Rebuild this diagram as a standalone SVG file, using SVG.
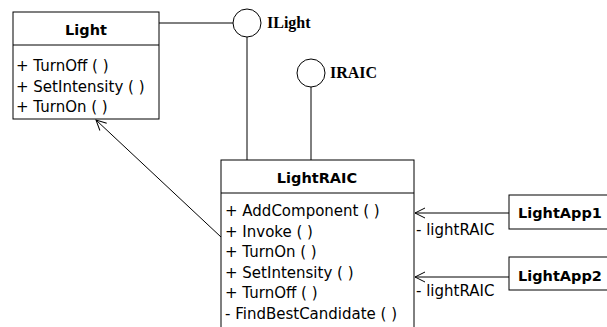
<svg xmlns="http://www.w3.org/2000/svg" width="607" height="327" viewBox="0 0 607 327">
<style>
.box{fill:#fff;stroke:#000;stroke-width:1}
.ln{fill:none;stroke:#000;stroke-width:1}
.t{font-family:"DejaVu Sans",Verdana,sans-serif;font-size:15px;fill:#000}
.b{font-family:"DejaVu Sans",Verdana,sans-serif;font-size:14.5px;font-weight:bold;fill:#000}
.s{font-family:"Liberation Serif","Times New Roman",serif;font-size:16px;font-weight:bold;fill:#000}
</style>
<defs>
<marker id="open" viewBox="-1 -1 14 14" refX="0" refY="6" markerWidth="14" markerHeight="14" markerUnits="userSpaceOnUse" orient="auto">
<path d="M10,1 L0,6 L10,11" fill="none" stroke="#000" stroke-width="1"/>
</marker>
</defs>
<rect width="607" height="327" fill="#fff"/>
<g id="connectors">
<line class="ln" x1="159" y1="23" x2="233" y2="23"/>
<line class="ln" x1="247" y1="37" x2="247" y2="160"/>
<line class="ln" x1="311" y1="87" x2="311" y2="160"/>
<line class="ln" x1="96" y1="120" x2="221" y2="237" marker-start="url(#open)"/>
<line class="ln" x1="415" y1="213" x2="509" y2="213" marker-start="url(#open)"/>
<line class="ln" x1="415" y1="277" x2="509" y2="277" marker-start="url(#open)"/>
<text class="t" x="416" y="235">- lightRAIC</text>
<text class="t" x="416" y="296">- lightRAIC</text>
</g>
<g id="Light">
<rect class="box" x="13" y="12" width="146" height="107"/>
<line class="ln" x1="13" y1="45" x2="159" y2="45"/>
<text class="b" x="86" y="35" text-anchor="middle">Light</text>
<text class="t" x="16" y="71">+ TurnOff ( )</text>
<text class="t" x="16" y="92">+ SetIntensity ( )</text>
<text class="t" x="16" y="112">+ TurnOn ( )</text>
</g>
<g id="ILight">
<circle class="box" cx="247" cy="23" r="14"/>
<text class="s" x="267" y="28">ILight</text>
</g>
<g id="IRAIC">
<circle class="box" cx="311" cy="73" r="14"/>
<text class="s" x="330" y="78">IRAIC</text>
</g>
<g id="LightRAIC">
<rect class="box" x="221" y="160" width="193" height="175"/>
<line class="ln" x1="221" y1="193" x2="414" y2="193"/>
<text class="b" x="317" y="183" text-anchor="middle">LightRAIC</text>
<text class="t" x="225" y="216">+ AddComponent ( )</text>
<text class="t" x="225" y="237">+ Invoke ( )</text>
<text class="t" x="225" y="257">+ TurnOn ( )</text>
<text class="t" x="225" y="278">+ SetIntensity ( )</text>
<text class="t" x="225" y="298">+ TurnOff ( )</text>
<text class="t" x="225" y="319">- FindBestCandidate ( )</text>
</g>
<g id="LightApp1">
<rect class="box" x="509" y="195" width="110" height="34"/>
<text class="b" x="518" y="218">LightApp1</text>
</g>
<g id="LightApp2">
<rect class="box" x="509" y="257" width="110" height="33"/>
<text class="b" x="518" y="281">LightApp2</text>
</g>
</svg>
